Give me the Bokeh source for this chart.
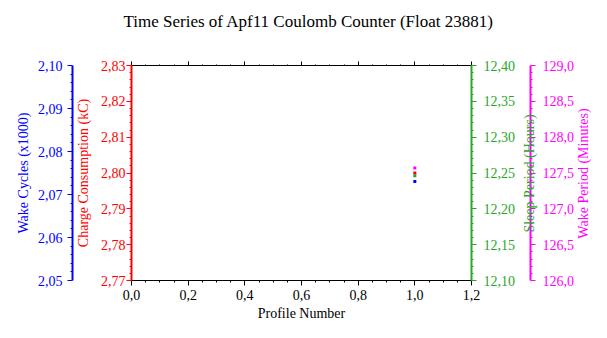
import math
from bokeh.plotting import figure
from bokeh.models import LinearAxis, Range1d, FixedTicker, CustomJSTickFormatter, Label
from bokeh.embed import file_html
from bokeh.resources import INLINE

# ---- data ----
profile = [1]
wake_cycles = [2.073]        # x1000
charge = [2.800]             # kC
sleep_period = [12.246]      # hours
wake_period = [127.57]       # minutes

x_ticks = [0.0, 0.2, 0.4, 0.6, 0.8, 1.0, 1.2]
red_ticks = [2.77, 2.78, 2.79, 2.80, 2.81, 2.82, 2.83]
blue_ticks = [2.05, 2.06, 2.07, 2.08, 2.09, 2.10]
green_ticks = [12.10, 12.15, 12.20, 12.25, 12.30, 12.35, 12.40]
mag_ticks = [126.0, 126.5, 127.0, 127.5, 128.0, 128.5, 129.0]

X_RANGE = (0.0, 1.2)
RED_RANGE = (2.77, 2.83)
BLUE_RANGE = (2.05, 2.10)
GREEN_RANGE = (12.10, 12.40)
MAG_RANGE = (126.0, 129.0)

FONT = "Liberation Serif"
BLUE = "#0000ff"
RED = "#ff0000"
GREEN = "#2aa52a"
MAG = "#ff00ff"


def minors(ticks, n):
    out = []
    for a, b in zip(ticks[:-1], ticks[1:]):
        for k in range(1, n):
            out.append(round(a + (b - a) * k / n, 6))
    return out


def fmt(d):
    return CustomJSTickFormatter(code="return tick.toFixed(%d).replace('.', ',');" % d)


p = figure(width=607, height=338, x_range=X_RANGE, y_range=RED_RANGE,
           output_backend="svg", toolbar_location=None,
           min_border_left=131, min_border_right=134, min_border_top=65, min_border_bottom=58)
p.extra_y_ranges = {"blue": Range1d(*BLUE_RANGE), "green": Range1d(*GREEN_RANGE),
                    "mag": Range1d(*MAG_RANGE)}
p.outline_line_color = None
p.xgrid.grid_line_color = None
p.ygrid.grid_line_color = None
p.background_fill_color = "white"
p.border_fill_color = "white"

p.title.text = "Time Series of Apf11 Coulomb Counter (Float 23881)"
p.title.align = "left"
p.title.offset = -8
p.title.text_font = FONT
p.title.text_font_size = "17px"
p.title.text_font_style = "normal"
p.title.text_color = "black"
p.title.standoff = 0


def style(ax, color, ticks, nminor, dec, tick_standoff, label_standoff, label_size="14px"):
    ax.ticker = FixedTicker(ticks=ticks, minor_ticks=minors(ticks, nminor))
    ax.formatter = fmt(dec)
    ax.axis_line_color = color
    ax.axis_line_width = 2
    ax.major_tick_line_color = color
    ax.minor_tick_line_color = color
    ax.major_tick_in = 0
    ax.major_tick_out = 5
    ax.minor_tick_in = 0
    ax.minor_tick_out = 2
    ax.major_label_text_color = color
    ax.major_label_text_font = FONT
    ax.major_label_text_font_size = "14px"
    ax.major_label_standoff = tick_standoff
    ax.axis_label_text_color = color
    ax.axis_label_text_font = FONT
    ax.axis_label_text_font_size = label_size
    ax.axis_label_text_font_style = "normal"
    ax.axis_label_standoff = label_standoff


def title_axis(range_name, text, color, standoff):
    ax = LinearAxis(y_range_name=range_name, ticker=FixedTicker(ticks=[]))
    ax.axis_line_color = None
    ax.major_tick_line_color = None
    ax.minor_tick_line_color = None
    ax.major_tick_out = 0
    ax.minor_tick_out = 0
    ax.major_label_standoff = 0
    ax.axis_label = text
    ax.axis_label_text_color = color
    ax.axis_label_text_font = FONT
    ax.axis_label_text_font_size = "14px"
    ax.axis_label_text_font_style = "normal"
    ax.axis_label_standoff = standoff
    return ax


# x axis (bottom)
xa = p.xaxis[0]
style(xa, "black", x_ticks, 4, 1, 4, 3)
xa.axis_line_width = 1
xa.axis_label = "Profile Number"

# top border axis (also spaces the title away from the frame)
ta = LinearAxis()
style(ta, "black", x_ticks, 4, 1, 0, 13)
ta.axis_line_width = 1
ta.major_tick_out = 4
ta.minor_tick_out = 1
ta.major_label_text_font_size = "0px"
ta.major_label_text_color = None
ta.axis_label = " "
p.add_layout(ta, "above")

# red (left, inner)
ra = p.yaxis[0]
style(ra, RED, red_ticks, 5, 2, 1, 0)
p.add_layout(title_axis("default", "Charge Consumption (kC)", RED, 7), "left")

# blue (left, outer)
ba = LinearAxis(y_range_name="blue")
style(ba, BLUE, blue_ticks, 5, 2, 5, 4)
ba.axis_label = "Wake Cycles (x1000)"
p.add_layout(ba, "left")

# green (right, inner) + spacer
ga = LinearAxis(y_range_name="green")
style(ga, GREEN, green_ticks, 5, 2, 7, 0)
p.add_layout(ga, "right")
p.add_layout(title_axis("green", " ", GREEN, -6), "right")

# magenta (right, outer)
ma = LinearAxis(y_range_name="mag")
style(ma, MAG, mag_ticks, 5, 1, 7, 0)
p.add_layout(ma, "right")

# right-hand titles, reading bottom-to-top
p.add_layout(Label(x=-48, y=107, x_units="screen", y_units="screen", text="Sleep Period (Hours)",
                   angle=math.pi / 2, text_align="center", text_baseline="middle",
                   text_font=FONT, text_font_size="14px", text_color=GREEN), "right")
p.add_layout(Label(x=-9, y=107, x_units="screen", y_units="screen", text="Wake Period (Minutes)",
                   angle=math.pi / 2, text_align="center", text_baseline="middle",
                   text_font=FONT, text_font_size="14px", text_color=MAG), "right")

p.scatter(profile, wake_period, marker="square", size=3, color=MAG, line_color=None, y_range_name="mag")
p.scatter(profile, charge, marker="square", size=3, color=RED, line_color=None)
p.scatter(profile, sleep_period, marker="square", size=3, color=GREEN, line_color=None, y_range_name="green")
p.scatter(profile, wake_cycles, marker="square", size=3, color=BLUE, line_color=None, y_range_name="blue")

open("out.html", "w").write(file_html(p, INLINE))
